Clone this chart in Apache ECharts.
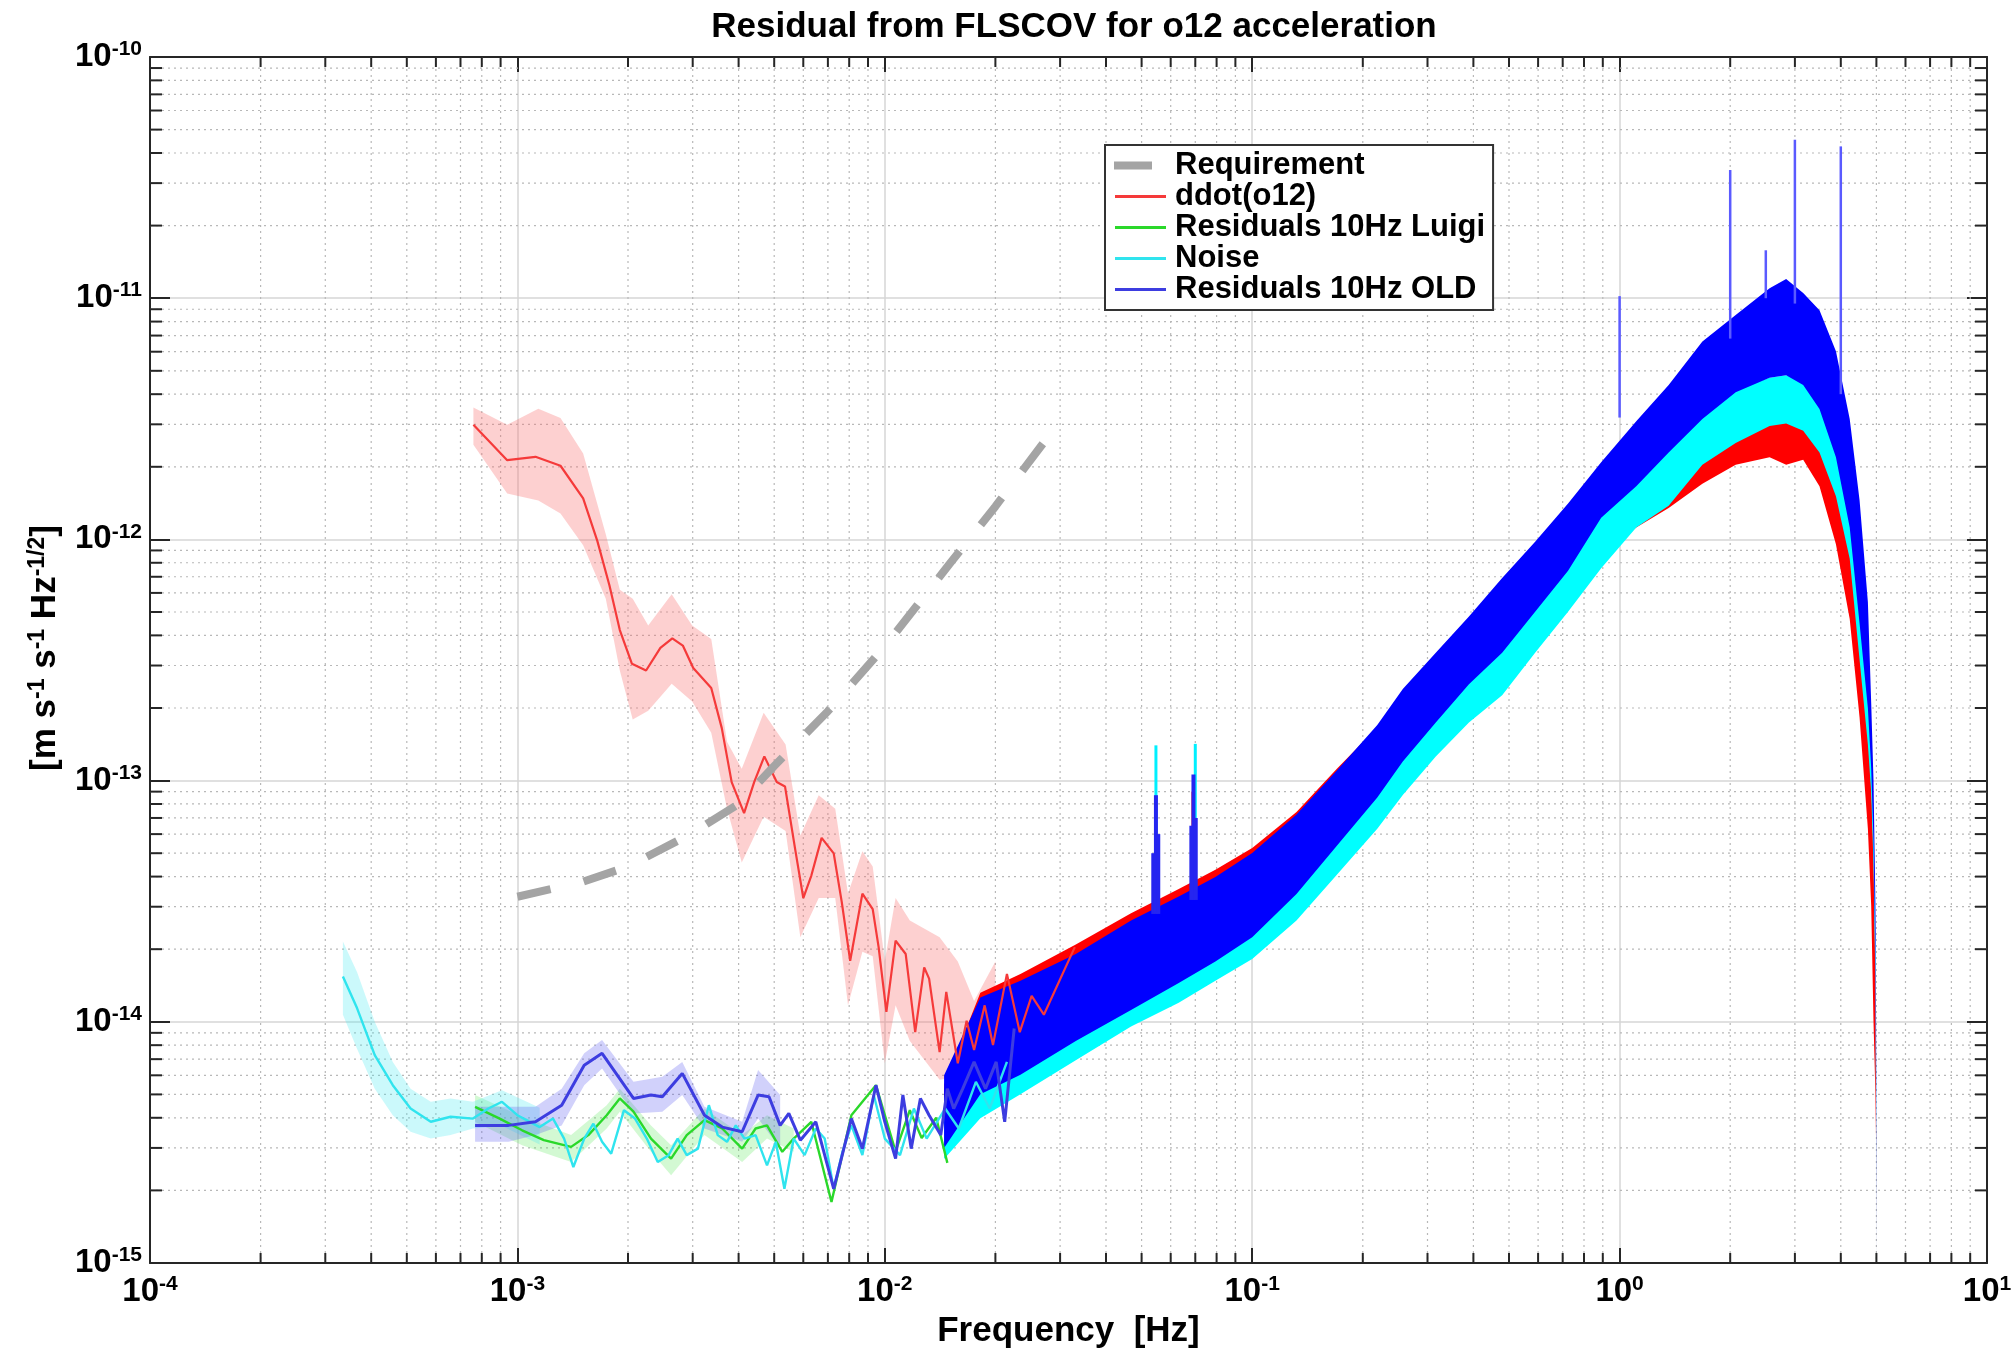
<!DOCTYPE html>
<html>
<head>
<meta charset="utf-8">
<title>Residual from FLSCOV for o12 acceleration</title>
<script src="https://cdn.jsdelivr.net/npm/echarts/dist/echarts.min.js"></script>
<style>
  html, body { margin: 0; padding: 0; background: #fff; }
  #chart { width: 2014px; height: 1348px; }
</style>
</head>
<body>
<div id="chart"></div>
<script>
// ---- values ----

// axis decades (tick labels are 10^n)
const xDecades = [1e-4, 1e-3, 1e-2, 1e-1, 1, 10]
const yDecades = [1e-15, 1e-14, 1e-13, 1e-12, 1e-11, 1e-10]
const minorSteps = [2, 3, 4, 5, 6, 7, 8, 9]

// Requirement (grey dashed)
const reqF = [1e-3, 1.5e-3, 2e-3, 3e-3, 4e-3, 5e-3, 7e-3, 1e-2, 1.5e-2, 2e-2, 3e-2]
const reqV = [3.3e-14, 3.8e-14, 4.4e-14, 6.07e-14, 8.0e-14, 1.15e-13, 1.94e-13, 3.6e-13, 7.9e-13, 1.37e-12, 3.1e-12]

// ddot(o12), low frequency median line
const ddotF = [7.59e-4, 9.38e-4, 1.12e-3, 1.31e-3, 1.51e-3, 1.65e-3, 1.78e-3, 1.90e-3, 2.05e-3, 2.24e-3,
  2.45e-3, 2.64e-3, 2.82e-3, 3.01e-3, 3.37e-3, 3.60e-3, 3.83e-3, 4.14e-3, 4.41e-3, 4.70e-3,
  5.08e-3, 5.35e-3, 5.70e-3, 6.00e-3, 6.31e-3, 6.73e-3, 7.26e-3, 7.64e-3, 8.05e-3, 8.69e-3,
  9.27e-3, 9.62e-3, 1.01e-2, 1.07e-2, 1.14e-2, 1.21e-2, 1.28e-2, 1.32e-2, 1.41e-2, 1.47e-2,
  1.58e-2, 1.67e-2, 1.75e-2, 1.87e-2, 1.97e-2, 2.15e-2, 2.33e-2, 2.51e-2, 2.71e-2, 3.29e-2]
const ddotV = [2.99e-12, 2.13e-12, 2.20e-12, 2.02e-12, 1.48e-12, 9.86e-13, 6.46e-13, 4.21e-13, 3.05e-13, 2.86e-13,
  3.55e-13, 3.89e-13, 3.63e-13, 2.93e-13, 2.42e-13, 1.65e-13, 9.86e-14, 7.33e-14, 9.86e-14, 1.26e-13,
  9.86e-14, 9.46e-14, 5.21e-14, 3.26e-14, 4.04e-14, 5.79e-14, 4.99e-14, 3.12e-14, 1.79e-14, 3.40e-14,
  2.93e-14, 2.04e-14, 1.10e-14, 2.17e-14, 1.91e-14, 9.06e-15, 1.68e-14, 1.51e-14, 7.48e-15, 1.33e-14,
  6.73e-15, 1.01e-14, 7.64e-15, 1.17e-14, 8.02e-15, 1.58e-14, 9.06e-15, 1.28e-14, 1.07e-14, 2.04e-14]
// ddot(o12) confidence band
const ddotBandF = [7.59e-4, 9.38e-4, 1.14e-3, 1.31e-3, 1.51e-3, 1.74e-3, 1.90e-3, 2.06e-3, 2.27e-3, 2.63e-3,
  2.99e-3, 3.37e-3, 3.72e-3, 4.08e-3, 4.68e-3, 5.37e-3, 5.89e-3, 6.61e-3, 7.33e-3, 7.94e-3,
  8.69e-3, 9.27e-3, 1.0e-2, 1.07e-2, 1.17e-2, 1.41e-2, 1.58e-2, 1.75e-2, 2.0e-2]
const ddotBandHi = [3.52e-12, 2.99e-12, 3.48e-12, 3.19e-12, 2.27e-12, 1.05e-12, 6.18e-13, 5.68e-13, 4.40e-13, 5.92e-13,
  4.40e-13, 3.86e-13, 1.45e-13, 1.12e-13, 1.91e-13, 1.41e-13, 5.92e-14, 8.69e-14, 7.64e-14, 3.40e-14,
  5.09e-14, 4.40e-14, 1.79e-14, 3.26e-14, 2.63e-14, 2.24e-14, 1.78e-14, 1.22e-14, 1.78e-14]
const ddotBandLo = [2.47e-12, 1.55e-12, 1.45e-12, 1.28e-12, 9.46e-13, 5.68e-13, 2.86e-13, 1.79e-13, 1.95e-13, 2.52e-13,
  2.13e-13, 1.58e-13, 7.64e-14, 4.58e-14, 7.08e-14, 6.18e-14, 2.24e-14, 3.26e-14, 3.26e-14, 1.17e-14,
  1.95e-14, 1.87e-14, 6.73e-15, 1.17e-14, 8.32e-15, 5.75e-15, 5.92e-15, 5.75e-15, 6.76e-15]

// Residuals 10Hz Luigi (green)
const luigiF = [7.67e-4, 8.95e-4, 1.03e-3, 1.18e-3, 1.40e-3, 1.56e-3, 1.75e-3, 1.90e-3, 2.07e-3, 2.31e-3,
  2.62e-3, 2.89e-3, 3.23e-3, 3.61e-3, 4.09e-3, 4.45e-3, 4.78e-3, 5.26e-3, 5.65e-3, 6.31e-3,
  7.16e-3, 8.11e-3, 9.46e-3, 1.07e-2, 1.17e-2, 1.26e-2, 1.38e-2, 1.48e-2]
const luigiV = [4.44e-15, 3.97e-15, 3.55e-15, 3.23e-15, 3.03e-15, 3.39e-15, 4.10e-15, 4.81e-15, 4.24e-15, 3.28e-15,
  2.71e-15, 3.39e-15, 3.91e-15, 3.61e-15, 2.98e-15, 3.61e-15, 3.72e-15, 2.89e-15, 3.28e-15, 3.85e-15,
  1.79e-15, 4.10e-15, 5.46e-15, 2.90e-15, 4.30e-15, 3.30e-15, 4.00e-15, 2.60e-15]
const luigiBandF = [7.67e-4, 1.03e-3, 1.40e-3, 1.75e-3, 1.90e-3, 2.31e-3, 2.62e-3, 3.23e-3, 4.09e-3, 4.78e-3, 5.65e-3]
const luigiBandHi = [4.97e-15, 4.04e-15, 3.39e-15, 4.51e-15, 5.28e-15, 3.72e-15, 3.08e-15, 4.37e-15, 3.39e-15, 4.10e-15, 3.61e-15]
const luigiBandLo = [3.85e-15, 3.08e-15, 2.62e-15, 3.61e-15, 4.24e-15, 2.89e-15, 2.31e-15, 3.39e-15, 2.62e-15, 3.28e-15, 2.89e-15]

// Noise (cyan)
const noiseF = [3.35e-4, 3.66e-4, 4.09e-4, 4.58e-4, 5.12e-4, 5.81e-4, 6.58e-4, 7.57e-4, 8.34e-4, 9.08e-4,
  1.00e-3, 1.15e-3, 1.25e-3, 1.34e-3, 1.42e-3, 1.52e-3, 1.61e-3, 1.70e-3, 1.80e-3, 1.95e-3,
  2.09e-3, 2.25e-3, 2.41e-3, 2.58e-3, 2.73e-3, 2.89e-3, 3.10e-3, 3.32e-3, 3.51e-3, 3.72e-3,
  3.93e-3, 4.15e-3, 4.45e-3, 4.78e-3, 5.05e-3, 5.33e-3, 5.65e-3, 6.05e-3, 6.49e-3, 6.86e-3,
  7.26e-3, 7.67e-3, 8.11e-3, 8.69e-3, 9.33e-3, 1.00e-2, 1.10e-2, 1.20e-2, 1.30e-2, 1.46e-2,
  1.59e-2, 1.77e-2, 1.93e-2, 2.15e-2]
const noiseV = [1.54e-14, 1.14e-14, 7.28e-15, 5.46e-15, 4.37e-15, 3.85e-15, 4.04e-15, 3.97e-15, 4.37e-15, 4.66e-15,
  4.10e-15, 3.66e-15, 3.97e-15, 3.28e-15, 2.50e-15, 3.28e-15, 3.78e-15, 3.18e-15, 2.84e-15, 4.30e-15,
  3.97e-15, 3.28e-15, 2.62e-15, 2.80e-15, 3.28e-15, 2.80e-15, 2.98e-15, 4.51e-15, 3.39e-15, 3.18e-15,
  3.72e-15, 3.28e-15, 3.39e-15, 2.54e-15, 3.18e-15, 2.03e-15, 3.28e-15, 2.80e-15, 3.61e-15, 3.28e-15,
  2.03e-15, 2.89e-15, 3.72e-15, 2.80e-15, 4.97e-15, 3.28e-15, 2.80e-15, 4.37e-15, 3.28e-15, 4.37e-15,
  3.61e-15, 5.64e-15, 4.37e-15, 6.82e-15]
const noiseBandF = [3.35e-4, 3.66e-4, 4.09e-4, 4.58e-4, 5.12e-4, 5.81e-4, 6.58e-4, 7.57e-4, 9.08e-4, 1.15e-3]
const noiseBandHi = [2.15e-14, 1.61e-14, 1.00e-14, 6.82e-15, 5.28e-15, 4.66e-15, 4.81e-15, 4.66e-15, 5.20e-15, 4.40e-15]
const noiseBandLo = [1.07e-14, 7.74e-15, 5.28e-15, 4.10e-15, 3.50e-15, 3.28e-15, 3.39e-15, 3.61e-15, 3.70e-15, 3.10e-15]

// Residuals 10Hz OLD (blue)
const oldF = [7.67e-4, 9.46e-4, 1.12e-3, 1.32e-3, 1.52e-3, 1.70e-3, 2.07e-3, 2.31e-3, 2.48e-3, 2.81e-3,
  3.23e-3, 3.61e-3, 4.09e-3, 4.52e-3, 4.84e-3, 5.19e-3, 5.48e-3, 5.89e-3, 6.49e-3, 7.26e-3,
  8.11e-3, 8.69e-3, 9.46e-3, 1.00e-2, 1.07e-2, 1.12e-2, 1.18e-2, 1.25e-2, 1.32e-2, 1.42e-2,
  1.48e-2, 1.54e-2, 1.63e-2, 1.75e-2, 1.88e-2, 2.01e-2, 2.12e-2, 2.25e-2]
const oldV = [3.72e-15, 3.72e-15, 3.85e-15, 4.51e-15, 6.61e-15, 7.40e-15, 4.81e-15, 4.97e-15, 4.89e-15, 6.11e-15,
  4.10e-15, 3.66e-15, 3.50e-15, 4.97e-15, 4.89e-15, 3.72e-15, 4.17e-15, 3.23e-15, 3.85e-15, 2.03e-15,
  3.97e-15, 2.98e-15, 5.46e-15, 3.85e-15, 2.71e-15, 4.97e-15, 2.98e-15, 4.81e-15, 4.10e-15, 3.39e-15,
  5.28e-15, 4.37e-15, 5.28e-15, 6.82e-15, 5.28e-15, 6.82e-15, 3.85e-15, 9.38e-15]
const oldBandF = [7.67e-4, 9.46e-4, 1.12e-3, 1.32e-3, 1.52e-3, 1.70e-3, 2.07e-3, 2.48e-3, 2.81e-3, 3.23e-3, 4.09e-3, 4.52e-3, 5.19e-3]
const oldBandHi = [4.44e-15, 4.44e-15, 4.44e-15, 5.28e-15, 7.40e-15, 8.40e-15, 5.64e-15, 5.92e-15, 6.82e-15, 4.44e-15, 3.85e-15, 6.31e-15, 4.97e-15]
const oldBandLo = [3.18e-15, 3.18e-15, 3.39e-15, 3.72e-15, 5.46e-15, 6.40e-15, 4.17e-15, 4.24e-15, 4.97e-15, 3.61e-15, 3.18e-15, 3.97e-15, 2.98e-15]

// dense high-frequency spectra: envelope of the noisy traces
const denseF = [1.45e-2, 1.82e-2, 2.34e-2, 3.31e-2, 4.68e-2, 6.31e-2, 7.94e-2, 0.1, 0.132, 0.170, 0.219,
  0.257, 0.316, 0.389, 0.479, 0.589, 0.724, 0.891, 1.11, 1.36, 1.68,
  2.07, 2.56, 2.84, 3.16, 3.50, 3.88, 4.23, 4.50, 4.74, 4.84,
  4.91, 4.97, 4.99, 5.01]
const ddotDenseHi = [5.5e-15, 1.32e-14, 1.58e-14, 2.09e-14, 2.82e-14, 3.55e-14, 4.27e-14, 5.25e-14, 7.41e-14, 1.12e-13, 1.66e-13,
  2.0e-13, 2.82e-13, 3.80e-13, 5.01e-13, 6.76e-13, 9.55e-13, 1.35e-12, 1.78e-12, 2.24e-12, 2.82e-12,
  3.16e-12, 3.39e-12, 3.39e-12, 3.16e-12, 2.51e-12, 1.58e-12, 8.91e-13, 3.98e-13, 1.58e-13, 1.0e-13,
  5.01e-14, 1.58e-14, 3.98e-15, 1.0e-15]
const ddotDenseLo = [4.5e-15, 5.01e-15, 6.03e-15, 7.94e-15, 1.05e-14, 1.32e-14, 1.66e-14, 2.09e-14, 3.16e-14, 4.79e-14, 7.41e-14,
  1.0e-13, 1.45e-13, 2.09e-13, 2.82e-13, 4.17e-13, 6.03e-13, 8.71e-13, 1.12e-12, 1.35e-12, 1.70e-12,
  2.04e-12, 2.19e-12, 2.04e-12, 2.14e-12, 1.66e-12, 9.55e-13, 4.68e-13, 1.82e-13, 6.31e-14, 3.02e-14,
  1.0e-14, 5.01e-15, 3.16e-15, 1.0e-15]
const noiseDenseHi = [4.8e-15, 1.05e-14, 1.26e-14, 1.58e-14, 2.19e-14, 2.75e-14, 3.31e-14, 4.17e-14, 6.31e-14, 1.0e-13, 1.51e-13,
  2.0e-13, 2.82e-13, 3.98e-13, 5.62e-13, 7.94e-13, 1.12e-12, 1.58e-12, 2.24e-12, 2.82e-12, 3.55e-12,
  4.17e-12, 4.68e-12, 4.79e-12, 4.57e-12, 3.80e-12, 2.63e-12, 1.45e-12, 6.31e-13, 2.51e-13, 1.41e-13,
  7.08e-14, 2.24e-14, 6.31e-15, 1.0e-15]
const noiseDenseLo = [2.7e-15, 3.98e-15, 5.01e-15, 6.92e-15, 9.55e-15, 1.20e-14, 1.48e-14, 1.82e-14, 2.63e-14, 4.07e-14, 6.31e-14,
  8.71e-14, 1.26e-13, 1.74e-13, 2.26e-13, 3.39e-13, 5.01e-13, 7.59e-13, 1.12e-12, 1.38e-12, 2.04e-12,
  2.51e-12, 2.95e-12, 3.02e-12, 2.82e-12, 2.29e-12, 1.51e-12, 8.32e-13, 3.16e-13, 1.41e-13, 8.91e-14,
  4.47e-14, 1.41e-14, 3.98e-15, 1.0e-15]
const oldDenseHi = [6.0e-15, 1.26e-14, 1.48e-14, 1.91e-14, 2.63e-14, 3.31e-14, 3.98e-14, 5.01e-14, 7.24e-14, 1.10e-13, 1.70e-13,
  2.40e-13, 3.39e-13, 4.79e-13, 6.92e-13, 9.77e-13, 1.41e-12, 2.09e-12, 3.09e-12, 4.37e-12, 6.61e-12,
  8.51e-12, 1.10e-11, 1.20e-11, 1.05e-11, 8.91e-12, 6.03e-12, 3.16e-12, 1.45e-12, 5.50e-13, 2.09e-13,
  1.0e-13, 3.02e-14, 1.0e-14, 1.0e-15]
const oldDenseLo = [3.0e-15, 5.01e-15, 6.03e-15, 8.32e-15, 1.12e-14, 1.45e-14, 1.78e-14, 2.24e-14, 3.39e-14, 5.37e-14, 8.51e-14,
  1.20e-13, 1.74e-13, 2.51e-13, 3.39e-13, 5.01e-13, 7.41e-13, 1.23e-12, 1.66e-12, 2.29e-12, 3.16e-12,
  4.07e-12, 4.68e-12, 4.79e-12, 4.37e-12, 3.47e-12, 2.19e-12, 1.12e-12, 4.47e-13, 2.00e-13, 1.12e-13,
  5.62e-14, 1.78e-14, 5.01e-15, 1.0e-15]

// narrow lines sticking out of the dense traces: frequency, bottom, top
const ddotSpikeF = [0.0690]
const ddotSpikeLo = [3.5e-14]
const ddotSpikeHi = [9.0e-14]
const noiseSpikeF = [0.0547, 0.0700]
const noiseSpikeLo = [3.0e-14, 3.5e-14]
const noiseSpikeHi = [1.40e-13, 1.42e-13]
const oldBurstF = [0.0538, 0.0547, 0.0555, 0.0683, 0.0692, 0.0702]
const oldBurstLo = [2.8e-14, 2.8e-14, 2.8e-14, 3.2e-14, 3.2e-14, 3.2e-14]
const oldBurstHi = [5.0e-14, 8.7e-14, 6.0e-14, 6.5e-14, 1.06e-13, 7.0e-14]
const oldSpikeF = [1.0, 2.0, 2.5, 3.0, 4.0]
const oldSpikeLo = [3.2e-12, 6.8e-12, 1.0e-11, 9.5e-12, 4.0e-12]
const oldSpikeHi = [1.02e-11, 3.40e-11, 1.58e-11, 4.54e-11, 4.26e-11]

// ---- chart ----
const FONT = "'Liberation Sans', Arial, Helvetica, sans-serif"
const AXIS_COLOR = '#262626'
// legend glyphs: a short thick dash for the requirement, thin strokes for the rest
const ICON_DASH = 'path://M0,0L0.01,0L0.01,0.01Z M0,3L38,3L38,11L0,11Z M52,14L51.99,14L51.99,13.99Z'
const ICON_LINE = 'path://M0,0L0.01,0L0.01,0.01Z M1,5.5L52,5.5L52,8.5L1,8.5Z M52,14L51.99,14L51.99,13.99Z'

function pairs(xs, ys) {
  return xs.map((x, i) => [x, ys[i]])
}
function triples(xs, lo, hi) {
  return xs.map((x, i) => [x, lo[i], hi[i]])
}
function minorValues(decades) {
  let out = []
  decades.slice(0, -1).forEach((d) => {
    minorSteps.forEach((m) => out.push(d * m))
  })
  return out
}

function powLabel(value) {
  let e = Math.round(Math.log10(value))
  return '{b|10}{s|' + e + '}'
}
const powRich = {
  b: { fontFamily: FONT, fontSize: 33, fontWeight: 'bold', color: '#000', lineHeight: 36 },
  s: { fontFamily: FONT, fontSize: 21, fontWeight: 'bold', color: '#000', lineHeight: 17, verticalAlign: 'top' },
}

function lineSeries(name, xs, ys, color, width, extra) {
  return Object.assign({
    name: name,
    type: 'line',
    data: pairs(xs, ys),
    symbol: 'none',
    silent: true,
    z: 3,
    lineStyle: { color: color, width: width },
    itemStyle: { color: color },
  }, extra || {})
}

// filled area between an upper and a lower curve
function bandSeries(name, xs, hi, lo, color) {
  let pts = pairs(xs, hi).concat(pairs(xs, lo).reverse())
  return {
    name: name,
    type: 'custom',
    silent: true,
    clip: true,
    z: 3,
    data: pts,
    renderItem: function (params, api) {
      if (params.dataIndex !== 0) return null
      return {
        type: 'polygon',
        shape: { points: pts.map((p) => api.coord(p)) },
        style: { fill: color },
      }
    },
  }
}

// vertical strokes from a bottom to a top value
function spikeSeries(name, xs, lo, hi, color, width) {
  return {
    name: name,
    type: 'custom',
    silent: true,
    clip: true,
    z: 3,
    encode: { x: 0, y: [1, 2] },
    data: triples(xs, lo, hi),
    renderItem: function (params, api) {
      let a = api.coord([api.value(0), api.value(1)])
      let b = api.coord([api.value(0), api.value(2)])
      return {
        type: 'line',
        shape: { x1: a[0], y1: a[1], x2: b[0], y2: b[1] },
        style: { stroke: color, lineWidth: width },
      }
    },
  }
}

// dotted minor grid at 2..9 of every decade, with short inside ticks on both sides
function minorGridSeries(vertical) {
  let values = vertical ? minorValues(xDecades) : minorValues(yDecades)
  return {
    name: vertical ? 'minorX' : 'minorY',
    type: 'custom',
    silent: true,
    z: 1,
    data: values.map((v) => (vertical ? [v, 1e-12] : [1, v])),
    renderItem: function (params, api) {
      let cs = params.coordSys
      let p = api.coord([api.value(0), api.value(1)])
      let dotted = { stroke: '#b8b8b8', lineWidth: 1.2, lineDash: [2, 4] }
      let tick = { stroke: AXIS_COLOR, lineWidth: 2 }
      if (vertical) {
        let t = 10
        return {
          type: 'group',
          children: [
            { type: 'line', shape: { x1: p[0], y1: cs.y, x2: p[0], y2: cs.y + cs.height }, style: dotted },
            { type: 'line', shape: { x1: p[0], y1: cs.y + cs.height, x2: p[0], y2: cs.y + cs.height - t }, style: tick },
            { type: 'line', shape: { x1: p[0], y1: cs.y, x2: p[0], y2: cs.y + t }, style: tick },
          ],
        }
      }
      let t = 12
      return {
        type: 'group',
        children: [
          { type: 'line', shape: { x1: cs.x, y1: p[1], x2: cs.x + cs.width, y2: p[1] }, style: dotted },
          { type: 'line', shape: { x1: cs.x, y1: p[1], x2: cs.x + t, y2: p[1] }, style: tick },
          { type: 'line', shape: { x1: cs.x + cs.width, y1: p[1], x2: cs.x + cs.width - t, y2: p[1] }, style: tick },
        ],
      }
    },
  }
}

function logAxis(min, max, position, main, tickLen) {
  return {
    type: 'log',
    logBase: 10,
    min: min,
    max: max,
    position: position,
    axisLine: { show: true, onZero: false, lineStyle: { color: AXIS_COLOR, width: 2 } },
    axisTick: { show: true, inside: true, length: tickLen, lineStyle: { color: AXIS_COLOR, width: 2 } },
    axisLabel: main
      ? { show: true, formatter: powLabel, rich: powRich, margin: position === 'bottom' ? 11 : 8, showMinLabel: true, showMaxLabel: true }
      : { show: false },
    splitLine: main ? { show: true, lineStyle: { color: '#d6d6d6', width: 1.5 } } : { show: false },
    minorTick: { show: false },
    minorSplitLine: { show: false },
  }
}

const chart = echarts.init(document.getElementById('chart'), null, { renderer: 'canvas' })

let xMain = logAxis(1e-4, 10, 'bottom', true, 15)
xMain.name = 'Frequency  [Hz]'
xMain.nameLocation = 'middle'
xMain.nameGap = 46
xMain.nameTextStyle = { fontFamily: FONT, fontSize: 35, fontWeight: 'bold', color: '#000' }

let yMain = logAxis(1e-15, 1e-10, 'left', true, 20)
yMain.name = '[m s{s|-1} s{s|-1} Hz{s|-1/2}]'
yMain.nameLocation = 'middle'
yMain.nameGap = 86
yMain.nameTextStyle = {
  fontFamily: FONT, fontSize: 35, fontWeight: 'bold', color: '#000', lineHeight: 38,
  padding: [0, 0, 0, 24],
  rich: { s: { fontFamily: FONT, fontSize: 23, fontWeight: 'bold', color: '#000', lineHeight: 19, verticalAlign: 'top' } },
}

const option = {
  animation: false,
  backgroundColor: '#fff',
  title: {
    text: 'Residual from FLSCOV for o12 acceleration',
    left: 1069,
    textAlign: 'center',
    top: 5,
    textStyle: { fontFamily: FONT, fontSize: 35, fontWeight: 'bold', color: '#000' },
  },
  legend: {
    data: [
      { name: 'Requirement', icon: ICON_DASH },
      { name: 'ddot(o12)', icon: ICON_LINE },
      { name: 'Residuals 10Hz Luigi', icon: ICON_LINE },
      { name: 'Noise', icon: ICON_LINE },
      { name: 'Residuals 10Hz OLD', icon: ICON_LINE },
    ],
    orient: 'vertical',
    left: 1105,
    top: 145,
    itemWidth: 52,
    itemHeight: 14,
    itemGap: 0,
    padding: [5, 8, 5, 9],
    backgroundColor: '#fff',
    borderColor: '#333',
    borderWidth: 2,
    selectedMode: false,
    textStyle: { fontFamily: FONT, fontSize: 31, fontWeight: 'bold', color: '#000', lineHeight: 30, padding: [0, 0, 0, 4] },
  },
  grid: { left: 150, right: 27, top: 57, bottom: 85, containLabel: false, outerBoundsMode: 'none' },
  xAxis: [xMain, logAxis(1e-4, 10, 'top', false, 15)],
  yAxis: [yMain, logAxis(1e-15, 1e-10, 'right', false, 20)],
  series: [
    minorGridSeries(true),
    minorGridSeries(false),

    bandSeries('ddot band', ddotBandF, ddotBandHi, ddotBandLo, 'rgba(250,110,110,0.32)'),
    bandSeries('Luigi band', luigiBandF, luigiBandHi, luigiBandLo, 'rgba(80,230,80,0.25)'),
    bandSeries('Noise band', noiseBandF, noiseBandHi, noiseBandLo, 'rgba(70,235,240,0.28)'),
    bandSeries('OLD band', oldBandF, oldBandHi, oldBandLo, 'rgba(90,90,240,0.28)'),

    lineSeries('ddot(o12)', ddotF, ddotV, '#f53a3a', 2.2),
    lineSeries('Residuals 10Hz Luigi', luigiF, luigiV, '#2ad82a', 2.4),
    lineSeries('Noise', noiseF, noiseV, '#30e4ee', 2.4),
    lineSeries('Residuals 10Hz OLD', oldF, oldV, '#3d3de0', 3),
    lineSeries('Requirement', reqF, reqV, '#a4a4a4', 8, {
      lineStyle: { color: '#a4a4a4', width: 8, type: [34, 34] },
      z: 4,
    }),

    bandSeries('ddot dense', denseF, ddotDenseHi, ddotDenseLo, '#ff0000'),
    spikeSeries('ddot spikes', ddotSpikeF, ddotSpikeLo, ddotSpikeHi, '#ff0000', 3),
    bandSeries('Noise dense', denseF, noiseDenseHi, noiseDenseLo, '#00ffff'),
    spikeSeries('Noise spikes', noiseSpikeF, noiseSpikeLo, noiseSpikeHi, '#00f0ff', 3),
    bandSeries('OLD dense', denseF, oldDenseHi, oldDenseLo, '#0000ff'),
    spikeSeries('OLD bursts', oldBurstF, oldBurstLo, oldBurstHi, '#2525f0', 4),
    spikeSeries('OLD spikes', oldSpikeF, oldSpikeLo, oldSpikeHi, '#5a5aff', 2.5),
  ],
}

chart.setOption(option)
</script>
</body>
</html>
